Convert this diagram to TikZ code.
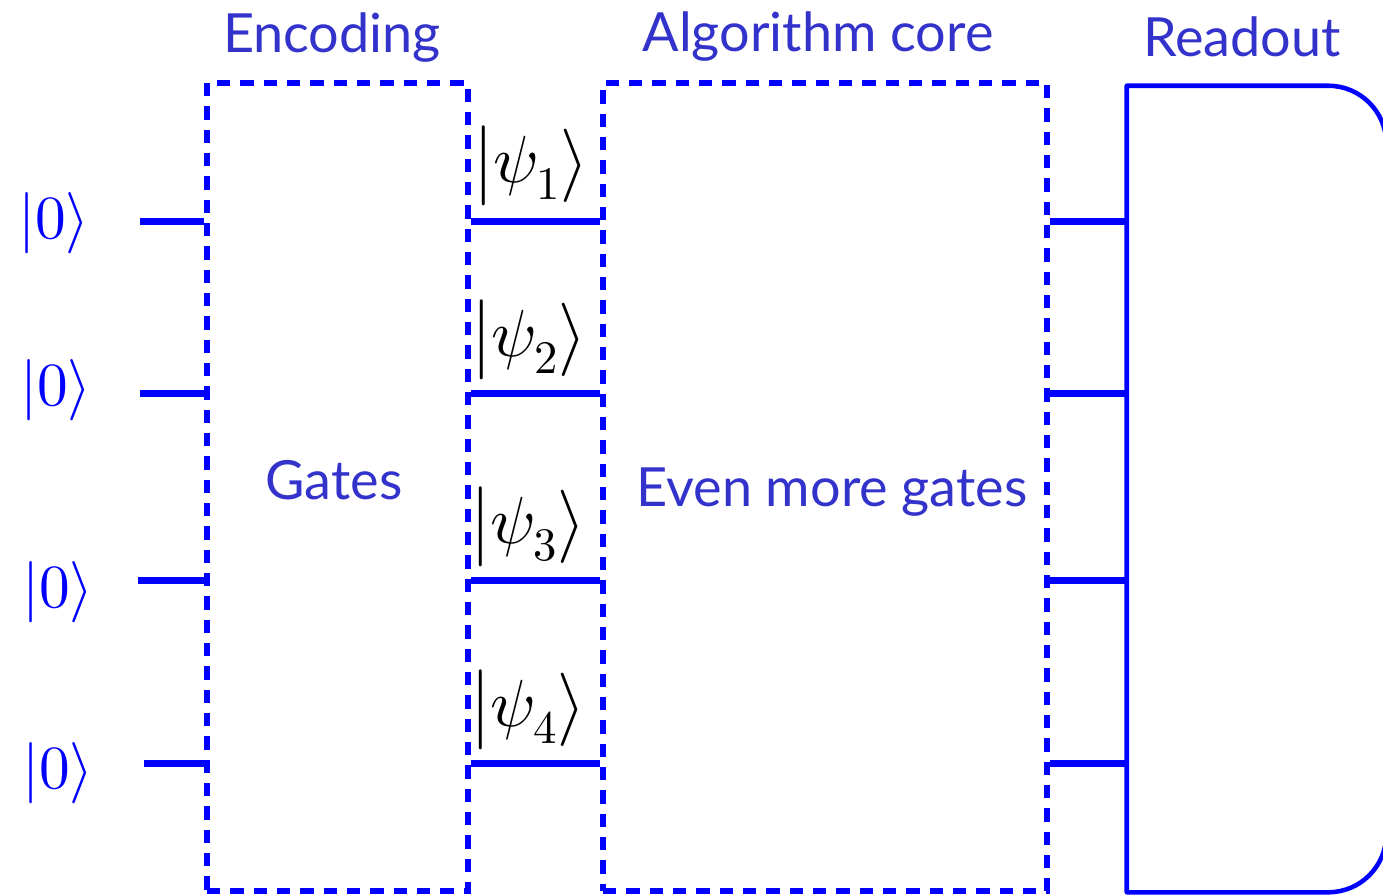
\documentclass[tikz,border=0pt]{standalone}
\usepackage{fontspec}
\usepackage{unicode-math}
\setmathfont{Latin Modern Math}
\usepackage{tikz}
\usetikzlibrary{calc,positioning}
\newfontfamily\labelfont{Lato}
\definecolor{qcblue}{HTML}{0000FF}
\definecolor{qctext}{HTML}{3333CC}
\tikzset{
  qbox/.style={draw=qcblue,line width=4.5pt,dash pattern=on 10pt off 7.5pt,
    inner sep=0pt,minimum height=606pt},
  qwire/.style={draw=qcblue,line width=5.25pt},
  readout/.style={draw=qcblue,line width=3.4pt,line join=round},
  qtitle/.style={font=\labelfont\fontsize{40.5}{42}\selectfont,text=qctext,anchor=base,inner sep=0pt},
  ketin/.style={font=\fontsize{46}{50}\selectfont,text=qcblue,anchor=base west,inner sep=0pt},
  ketout/.style={font=\fontsize{50}{54}\selectfont,text=black,inner sep=0pt}
}
\begin{document}
\begin{tikzpicture}[x=0.75pt,y=-0.75pt]
    \useasboundingbox (0,0) rectangle (1383,894);
    % boxes
    \node[qbox,minimum width=195.75pt] (enc) at (337.5,487) {};
    \node[qbox,minimum width=333pt] (core) at (825,487) {};
    \node[inner sep=0pt,minimum width=194.25pt,minimum height=604.5pt] (ro) at (1256.5,489) {};
    \draw[readout] (ro.south west) -- (ro.north west) -- ([xshift=-43.5pt]ro.north east)
      arc[start angle=90,end angle=0,radius=43.5pt] -- ([yshift=43.5pt]ro.south east)
      arc[start angle=0,end angle=-90,radius=43.5pt] -- cycle;
    % titles
    \node[qtitle] (enclbl) at (332,52) {Encoding};
    \node[qtitle] (corelbl) at (818,51) {Algorithm core};
    \node[qtitle] (rolbl) at (1242,56) {Readout};
    \node[qtitle] (gates) at (334,499) {Gates};
    \node[qtitle] (moregates) at (832,506) {Even more gates};
    % wires
    \coordinate (s1) at (140,221);
    \coordinate (s2) at (140,393);
    \coordinate (s3) at (138,580);
    \coordinate (s4) at (144,763);
    \foreach \i in {1,...,4}{
      \draw[qwire] (s\i) -- (enc.west |- s\i);
      \draw[qwire] (enc.east |- s\i) -- (core.west |- s\i);
      \draw[qwire] (core.east |- s\i) -- (ro.west |- s\i);
    }
    % kets
    \node[ketin] (in1) at (18,238) {$|0\rangle$};
    \node[ketin] (in2) at (20,405) {$|0\rangle$};
    \node[ketin] (in3) at (22,607) {$|0\rangle$};
    \node[ketin] (in4) at (22,788) {$|0\rangle$};
    \node[ketout] (psi1) at (532,166) {$\bigl|\psi_1\bigr\rangle$};
    \node[ketout] (psi2) at (530,340) {$\bigl|\psi_2\bigr\rangle$};
    \node[ketout] (psi3) at (529,527) {$\bigl|\psi_3\bigr\rangle$};
    \node[ketout] (psi4) at (529,710) {$\bigl|\psi_4\bigr\rangle$};
\end{tikzpicture}
\end{document}
